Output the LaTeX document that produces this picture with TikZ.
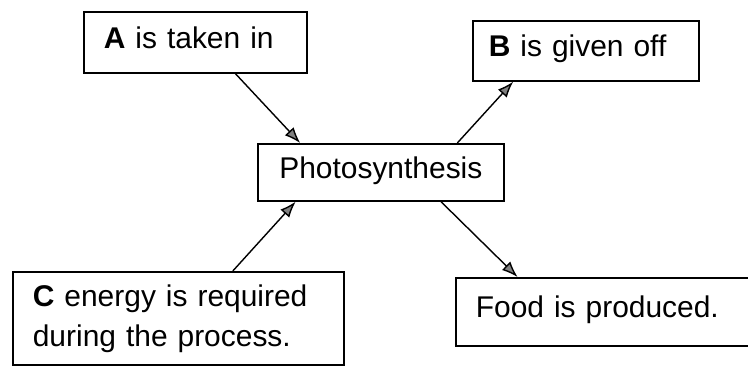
\documentclass[tikz,border=0pt]{standalone}
\usepackage{fontspec}
\setmainfont{Liberation Sans}
\usetikzlibrary{arrows.meta}

\begin{document}
\begin{tikzpicture}[
    box/.style={rectangle, draw, line width=1.2pt, anchor=north west, align=left, inner xsep=0.5cm,
      font=\fontsize{21.3pt}{28.4pt}\selectfont},
    oneline/.style={text height=0.55cm, text depth=0.25cm},
    arr/.style={line width=1pt, -{Latex[length=0.4cm, width=0.3cm, fill=gray]}}
  ]
    \useasboundingbox (0, 0) rectangle (18.7, -9.175);
    \clip (0, 0) rectangle (18.7, -9.175);

    % 中央のノード
    \node[box, oneline, align=center, inner xsep=0pt, minimum width=6.15cm, minimum height=1.425cm] (P) at (6.425, -3.575) {Photosynthesis};

    \node[box, oneline, text width=4.575cm, minimum height=1.525cm] (A) at (2.075, -0.275) {\textbf{A} is taken in};
    \node[box, oneline, inner xsep=0.4cm, text width=4.85cm, minimum height=1.5cm] (B) at (11.8, -0.5) {\textbf{B} is given off};
    \node[box, text width=7.275cm, minimum height=2.325cm] (C) at (0.3, -6.775) {\textbf{C} energy is required\\during the process.};
    \node[box, oneline, text width=6.875cm, minimum height=1.7cm] (F) at (11.375, -6.925) {Food is produced.};

    \draw[arr] (A.-38) -- (P.160);
    \draw[arr] (P.21) -- (B.203);
    \draw[arr] (C.41.5) -- (P.199);
    \draw[arr] (P.-26.6) -- (F.160.4);

  \end{tikzpicture}
\end{document}
